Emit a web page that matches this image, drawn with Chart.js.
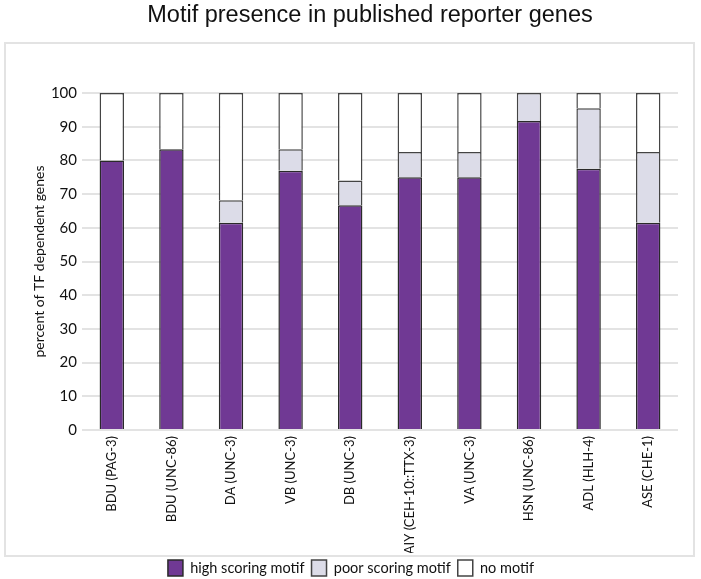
<!DOCTYPE html>
<html>
<head>
<meta charset="utf-8">
<script src="https://cdn.jsdelivr.net/npm/chart.js@4"></script>
<style>
  html, body { margin: 0; padding: 0; background: #fff; overflow: hidden; }
  #wrap { position: relative; width: 701px; height: 579px; overflow: hidden; }
  #title {
    position: absolute; left: 40px; top: 0; width: 660px;
    text-align: center; line-height: 28px;
    font-family: "Liberation Sans", Arial, sans-serif; font-size: 23.5px; color: #111;
  }
</style>
</head>
<body>
<div id="wrap">
  <canvas id="motifChart" width="701" height="586"></canvas>
  <div id="title">Motif presence in published reporter genes</div>
</div>
<script>
// Datos del gráfico
const categories = [
  "BDU (PAG-3)", "BDU (UNC-86)", "DA (UNC-3)", "VB (UNC-3)", "DB (UNC-3)",
  "AIY (CEH-10::TTX-3)", "VA (UNC-3)", "HSN (UNC-86)", "ADL (HLH-4)", "ASE (CHE-1)"
];
const highScoring = [80, 83.3, 61.5, 76.9, 66.7, 75, 75, 91.7, 77.5, 61.5];
const poorScoring = [0, 0, 6.7, 6.4, 7.3, 7.5, 7.5, 8.3, 18, 21];
const noMotif = [20, 16.7, 31.8, 16.7, 26, 17.5, 17.5, 0, 4.5, 17.5];
const yTicks = [0, 10, 20, 30, 40, 50, 60, 70, 80, 90, 100];

const labelFamily = "Lato, 'Open Sans', sans-serif";

// Marco gris claro alrededor del área del gráfico
const framePlugin = {
  id: "frame",
  beforeDraw(chart) {
    const ctx = chart.ctx;
    ctx.save();
    ctx.fillStyle = "#fff";
    ctx.fillRect(0, 0, chart.width, chart.height);
    ctx.strokeStyle = "#e3e3e3";
    ctx.lineWidth = 2;
    ctx.strokeRect(5, 43, 689, 513);
    ctx.restore();
  },
};

const ctx = document.getElementById("motifChart").getContext("2d");

new Chart(ctx, {
  type: "bar",
  data: {
    labels: categories,
    datasets: [
      {
        label: "high scoring motif",
        data: highScoring,
        backgroundColor: "#703994",
        borderColor: "#2a2a2a",
        borderWidth: 1.5,
      },
      {
        label: "poor scoring motif",
        data: poorScoring,
        backgroundColor: "#dcdce8",
        borderColor: "#444",
        borderWidth: 1.5,
      },
      {
        label: "no motif",
        data: noMotif,
        backgroundColor: "#ffffff",
        borderColor: "#444",
        borderWidth: 1.5,
      },
    ],
  },
  options: {
    responsive: false,
    animation: false,
    datasets: {
      bar: { categoryPercentage: 1, barPercentage: 0.41 },
    },
    layout: {
      padding: { left: 24, right: 23, top: 93, bottom: 0 },
    },
    plugins: {
      legend: {
        position: "bottom",
        labels: {
          boxWidth: 15,
          boxHeight: 16,
          padding: 7,
          color: "#111",
          font: { family: labelFamily, size: 14.5 },
        },
      },
      tooltip: { enabled: false },
    },
    scales: {
      x: {
        stacked: true,
        grid: { display: false, drawTicks: false },
        border: { display: false },
        ticks: {
          color: "#111",
          font: { family: labelFamily, size: 13 },
          padding: 6,
          minRotation: 90,
          maxRotation: 90,
          autoSkip: false,
        },
        afterFit(scale) {
          scale.height = 123;
        },
      },
      y: {
        stacked: true,
        min: 0,
        max: 100,
        grid: { color: "#e3e3e3", lineWidth: 2, drawTicks: false },
        border: { display: false },
        afterBuildTicks(scale) {
          scale.ticks = yTicks.map((v) => ({ value: v }));
        },
        ticks: {
          color: "#111",
          font: { family: labelFamily, size: 15 },
          padding: 5,
        },
        title: {
          display: true,
          text: "percent of TF dependent genes",
          color: "#111",
          font: { family: labelFamily, size: 14 },
          padding: { top: 7, bottom: 0 },
        },
        afterFit(scale) {
          scale.width = 58;
        },
      },
    },
  },
  plugins: [framePlugin],
});
</script>
</body>
</html>
